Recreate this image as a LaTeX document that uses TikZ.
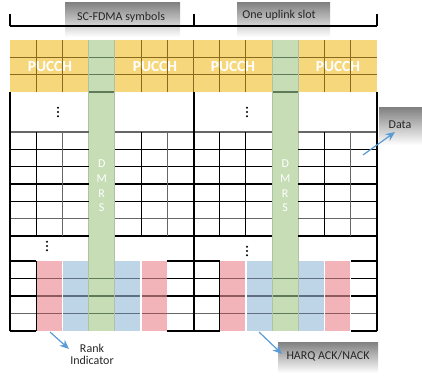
\documentclass[tikz,border=0pt]{standalone}
\usepackage{fontspec}
\setmainfont{Carlito}
\usetikzlibrary{arrows.meta}
\definecolor{yel}{HTML}{F6D77C}
\definecolor{yelline}{HTML}{8A6A1C}
\definecolor{grn}{HTML}{C6DDB6}
\definecolor{grnline}{HTML}{5E7A58}
\definecolor{grnedge}{HTML}{AFC2A6}
\definecolor{rd}{HTML}{F3B4B9}
\definecolor{rdline}{HTML}{8E5A5E}
\definecolor{bl}{HTML}{BED4E7}
\definecolor{blline}{HTML}{5D6F80}
\definecolor{arrblue}{HTML}{5B9BD5}
\definecolor{shade}{HTML}{F6F6F6}
\tikzset{
  lbl/.style={font=\fontsize{9}{10}\selectfont, inner sep=0pt, text=black!85},
  pucch/.style={font=\fontsize{11.5}{12}\selectfont\bfseries, text=white, inner sep=0pt},
  dmrs/.style={font=\fontsize{9}{10}\selectfont, text=white, inner sep=0pt},
  arr/.style={draw=arrblue, line width=0.9pt, -{Stealth[length=7pt,width=6pt]}},
  blk/.style={draw=black, line width=0.8pt},
  gry/.style={draw=black!60, line width=0.8pt},
  bord/.style={draw=black, line width=1.1pt},
}
\begin{document}
\begin{tikzpicture}[x=0.75pt,y=-0.75pt]
\useasboundingbox (0,0) rectangle (422,382);
\def\w{26.2143}
% faint label backgrounds
\fill[shade] (65,2) rectangle (180,37);
\fill[shade] (237,2) rectangle (330,37);
\fill[shade] (379,107) rectangle (422,145);
\fill[shade] (278,342) rectangle (378,373);
% yellow PUCCH band
\fill[yel] (10,40) rectangle (377,92);
% green DMRS columns
\foreach \c in {3,10}{
  \fill[grn] ({10+\c*\w},40) rectangle ({10+(\c+1)*\w},331);
}
% bottom coloured cells
\foreach \o in {0,7}{
  \fill[rd] ({10+(1+\o)*\w+0.6},261) rectangle ({10+(2+\o)*\w-0.6},331);
  \fill[bl] ({10+(2+\o)*\w+0.6},261) rectangle ({10+(3+\o)*\w-0.6},331);
  \fill[bl] ({10+(4+\o)*\w+0.6},261) rectangle ({10+(5+\o)*\w-0.6},331);
  \fill[rd] ({10+(5+\o)*\w+0.6},261) rectangle ({10+(6+\o)*\w-0.6},331);
}
% header
\draw[blk] (10,26) -- (377,26);
\foreach \x in {10,194,377}{ \draw[bord] (\x,14) -- (\x,26); }
% PUCCH grid lines
\foreach \y in {57.33,74.67}{ \draw[draw=yelline, line width=0.8pt] (10,\y) -- (377,\y); }
\foreach \c in {1,2,5,6,7,8,9,12,13}{ \draw[draw=yelline, line width=0.8pt] ({10+\c*\w},40) -- ({10+\c*\w},92); }
% green column edges and inner lines
\foreach \c in {3,10}{
  \foreach \y in {57.33,74.67,92}{ \draw[draw=grnline, line width=0.8pt] ({10+\c*\w},\y) -- ({10+(\c+1)*\w},\y); }
  \foreach \y in {278.5,296,313.5}{ \draw[draw=grnline, line width=0.8pt] ({10+\c*\w},\y) -- ({10+(\c+1)*\w},\y); }
  \draw[draw=grnedge, line width=0.8pt] ({10+\c*\w},40) -- ({10+\c*\w},331);
  \draw[draw=grnedge, line width=0.8pt] ({10+(\c+1)*\w},40) -- ({10+(\c+1)*\w},331);
}
% middle grid
\foreach \y/\s in {132/gry,149.33/blk,166.67/blk,184/blk,201.33/blk,218.67/gry,236/blk}{
  \draw[\s] (10,\y) -- ({10+3*\w},\y);
  \draw[\s] ({10+4*\w},\y) -- ({10+10*\w},\y);
  \draw[\s] ({10+11*\w},\y) -- (377,\y);
}
\foreach \c/\s in {1/blk,2/gry,5/blk,6/gry,8/blk,9/blk,12/blk,13/gry}{
  \draw[\s] ({10+\c*\w},132) -- ({10+\c*\w},236);
}
% bottom rows
\foreach \c in {0,6,7,13}{
  \foreach \y/\s in {261/blk,278.5/blk,296/blk,313.5/gry,331/blk}{
    \draw[\s] ({10+\c*\w},\y) -- ({10+(\c+1)*\w},\y);
  }
}
\foreach \o in {0,7}{
  \foreach \y in {278.5,296,313.5}{
    \draw[draw=rdline, line width=0.8pt] ({10+(1+\o)*\w+0.6},\y) -- ({10+(2+\o)*\w-0.6},\y);
    \draw[draw=blline, line width=0.8pt] ({10+(2+\o)*\w+0.6},\y) -- ({10+(3+\o)*\w-0.6},\y);
    \draw[draw=blline, line width=0.8pt] ({10+(4+\o)*\w+0.6},\y) -- ({10+(5+\o)*\w-0.6},\y);
    \draw[draw=rdline, line width=0.8pt] ({10+(5+\o)*\w+0.6},\y) -- ({10+(6+\o)*\w-0.6},\y);
  }
}
\foreach \c in {1,8}{ \draw[blk] ({10+\c*\w},261) -- ({10+\c*\w},331); }
% slot borders
\foreach \x in {10,194,377}{ \draw[bord] (\x,92) -- (\x,331); }
% vertical ellipses (drawn dots)
\foreach \x/\y in {58/112,247/112,47/246,247/251}{
  \foreach \d in {-4.2,0,4.2}{ \fill[black] (\x,\y+\d) circle (1.1); }
}
% texts
\node[lbl] (hdr1) at (121,17) {SC-FDMA symbols};
\node[lbl] (hdr2) at (279,15) {One uplink slot};
\node[pucch] (p1) at (50,66.5) {PUCCH};
\node[pucch] (p2) at (155,66.5) {PUCCH};
\node[pucch] (p3) at (233,66.5) {PUCCH};
\node[pucch] (p4) at (338,66.5) {PUCCH};
\foreach \c/\n in {3/a,10/b}{
  \node[dmrs] (d\n1) at ({10+(\c+0.5)*\w},164) {D};
  \node[dmrs] (d\n2) at ({10+(\c+0.5)*\w},179) {M};
  \node[dmrs] (d\n3) at ({10+(\c+0.5)*\w},193.5) {R};
  \node[dmrs] (d\n4) at ({10+(\c+0.5)*\w},208) {S};
}
\node[lbl] (data) at (400,125) {Data};
\node[lbl, align=center] (rank) at (92,354.5) {Rank\\[-0.5pt]Indicator};
\node[lbl] (harq) at (328,356) {HARQ ACK/NACK};
% arrows
\coordinate (dataS) at (363,155);
\coordinate (dataE) at (395,132);
\coordinate (rankS) at (50,332);
\coordinate (rankE) at (69,349);
\coordinate (harqS) at (259,332);
\coordinate (harqE) at (282,354);
\draw[arr] (dataS) -- (dataE);
\draw[arr] (rankS) -- (rankE);
\draw[arr] (harqS) -- (harqE);
\end{tikzpicture}
\end{document}
